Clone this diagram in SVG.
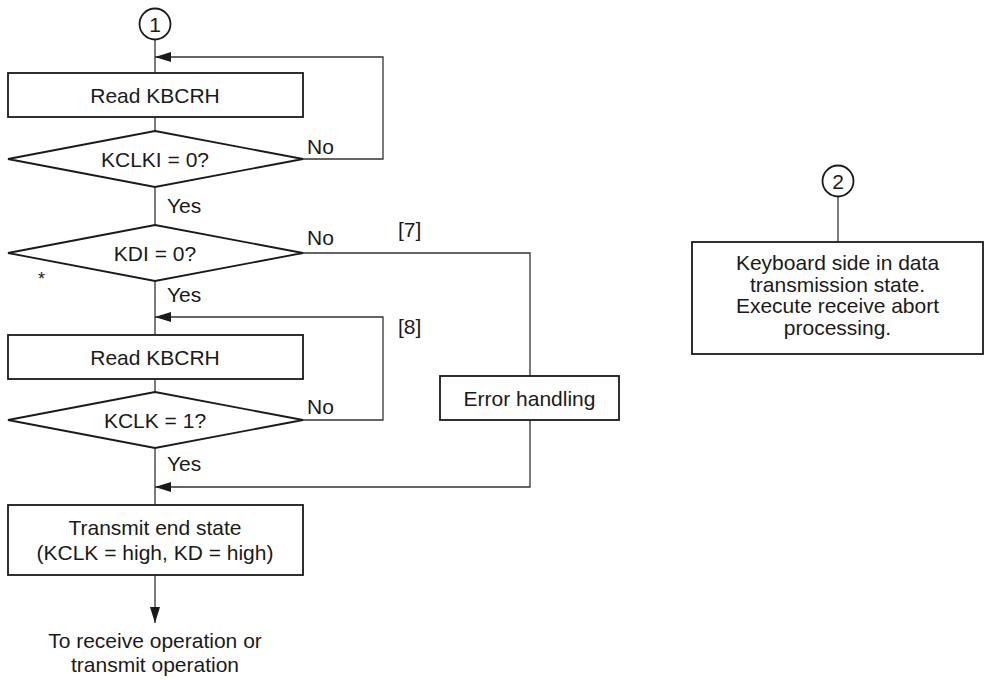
<svg xmlns="http://www.w3.org/2000/svg" width="986" height="680" viewBox="0 0 986 680">
<defs>
<style>
.box{fill:#fff;stroke:#1a1a1a;stroke-width:1.8}
.conn{fill:none;stroke:#333;stroke-width:1.3}
.t{font-family:"Liberation Sans",Arial,Helvetica,sans-serif;font-size:21px;fill:#1a1a1a}
.c{text-anchor:middle}
</style>
<marker id="arr" markerUnits="userSpaceOnUse" markerWidth="17" markerHeight="11" refX="16" refY="5" orient="auto">
<path d="M0,0 L16,5 L0,10 Z" fill="#1a1a1a"/>
</marker>
</defs>
<rect width="986" height="680" fill="#fff"/>
<g id="connectors">
<path class="conn" d="M155,39 V73"/>
<path class="conn" d="M155,117 V131"/>
<path class="conn" d="M155,187 V225"/>
<path class="conn" d="M155,281 V335"/>
<path class="conn" d="M155,379 V392"/>
<path class="conn" d="M155,448 V505"/>
<path class="conn" d="M303,159 H383 V57 H155" marker-end="url(#arr)"/>
<path class="conn" d="M303,420 H383 V317 H155" marker-end="url(#arr)"/>
<path class="conn" d="M303,253 H530 V376"/>
<path class="conn" d="M530,420 V487 H155" marker-end="url(#arr)"/>
<path class="conn" d="M155,575 V623" marker-end="url(#arr)"/>
<path class="conn" d="M838,197 V242"/>
</g>
<g id="start1">
<circle class="box" cx="155" cy="24" r="15.5"/>
<text class="t c" x="155" y="31.5">1</text>
</g>
<g id="read1">
<rect class="box" x="8" y="73" width="295" height="44"/>
<text class="t c" x="155" y="102.5">Read KBCRH</text>
</g>
<g id="dec_kclki">
<polygon class="box" points="155,131 303,159 155,187 8,159"/>
<text class="t c" x="155" y="166.5">KCLKI = 0?</text>
<text class="t" x="307" y="154">No</text>
<text class="t" x="167" y="213">Yes</text>
</g>
<g id="dec_kdi">
<polygon class="box" points="155,225 303,253 155,281 8,253"/>
<text class="t c" x="155" y="260.5">KDI = 0?</text>
<text class="t" x="307" y="245">No</text>
<text class="t" x="398" y="237">[7]</text>
<text class="t" x="167" y="302">Yes</text>
<text class="t" x="38" y="285" style="font-size:18px">*</text>
</g>
<g id="read2">
<rect class="box" x="8" y="335" width="295" height="44"/>
<text class="t c" x="155" y="364.5">Read KBCRH</text>
<text class="t" x="398" y="334">[8]</text>
</g>
<g id="dec_kclk">
<polygon class="box" points="155,392 303,420 155,448 8,420"/>
<text class="t c" x="155" y="427.5">KCLK = 1?</text>
<text class="t" x="307" y="414">No</text>
<text class="t" x="167" y="471">Yes</text>
</g>
<g id="error">
<rect class="box" x="440" y="376" width="179" height="44"/>
<text class="t c" x="529.5" y="405.5">Error handling</text>
</g>
<g id="end_state">
<rect class="box" x="8" y="505" width="295" height="70"/>
<text class="t c" x="155" y="535">Transmit end state</text>
<text class="t c" x="155" y="560">(KCLK = high, KD = high)</text>
</g>
<g id="next">
<text class="t c" x="155" y="648">To receive operation or</text>
<text class="t c" x="155" y="672">transmit operation</text>
</g>
<g id="start2">
<circle class="box" cx="838" cy="181" r="15.5"/>
<text class="t c" x="838" y="188.5">2</text>
</g>
<g id="abort">
<rect class="box" x="692" y="242" width="291" height="112"/>
<text class="t c" x="837.5" y="270">Keyboard side in data</text>
<text class="t c" x="837.5" y="291.7">transmission state.</text>
<text class="t c" x="837.5" y="313.4">Execute receive abort</text>
<text class="t c" x="837.5" y="335">processing.</text>
</g>
</svg>
